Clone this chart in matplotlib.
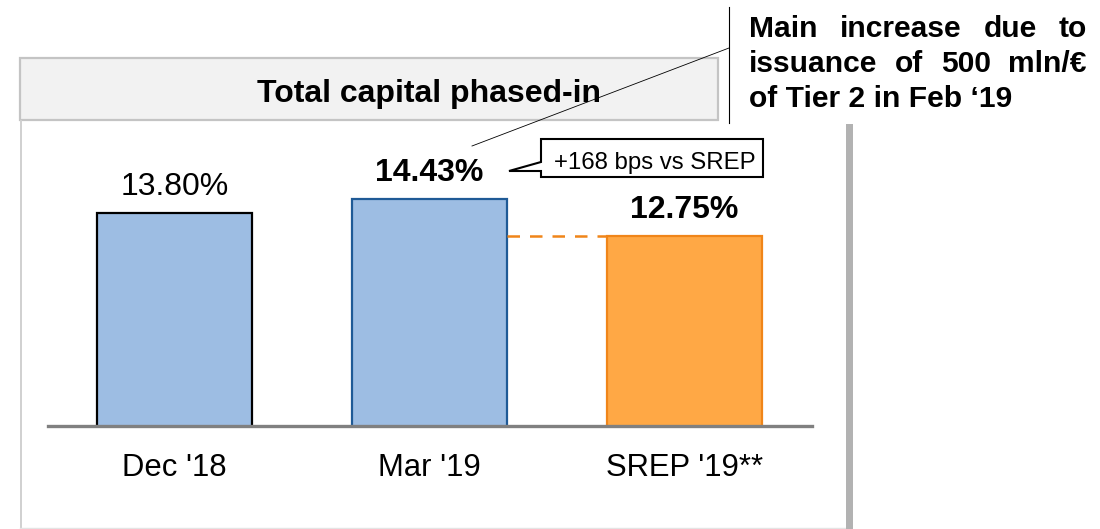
import matplotlib
matplotlib.use("Agg")
import matplotlib.pyplot as plt
from matplotlib.patches import Rectangle, Polygon
from matplotlib.lines import Line2D

plt.rcParams['font.family'] = ['Liberation Sans', 'DejaVu Sans']

# ---- data ----
categories = ["Dec '18", "Mar '19", "SREP '19**"]
values = [13.80, 14.43, 12.75]
value_labels = ["13.80%", "14.43%", "12.75%"]
label_bold = [False, True, True]
title = "Total capital phased-in"
callout_text = "+168 bps vs SREP"
note_lines = ["Main increase due to", "issuance of 500 mln/€", "of Tier 2 in Feb \u201819"]

# ---- style ----
W, H = 1100, 529
fig = plt.figure(figsize=(W / 100, H / 100), dpi=100)
fig.patch.set_facecolor('white')


def fx(x):
    return x / W


def fy(y):
    return 1 - y / H


# header / panel frame
fig.add_artist(Rectangle((fx(20), fy(120)), fx(718) - fx(20), fy(58) - fy(120),
                         transform=fig.transFigure, facecolor='#F2F2F2',
                         edgecolor='#C4C4C4', lw=1.6, zorder=1))
fig.add_artist(Line2D([fx(21), fx(21)], [fy(121), fy(528)], transform=fig.transFigure,
                      color='#D0D0D0', lw=1.4, zorder=1))
fig.add_artist(Line2D([fx(20), fx(846)], [fy(528), fy(528)], transform=fig.transFigure,
                      color='#E4E4E4', lw=1.0, zorder=1))
fig.add_artist(Rectangle((fx(846), fy(529)), fx(853) - fx(846), fy(124) - fy(529),
                         transform=fig.transFigure, facecolor='#B2B2B2',
                         edgecolor='none', zorder=1))

fig.text(fx(257), fy(102), title, ha='left', va='baseline', fontsize=23,
         fontweight='bold', color='black', zorder=3)

# ---- bar axes ----
ax_l, ax_r, ax_t, ax_b = 48, 812, 116, 426
ax = fig.add_axes([fx(ax_l), fy(ax_b), fx(ax_r) - fx(ax_l), fy(ax_t) - fy(ax_b)])
ax.set_facecolor('none')
ax.set_xlim(-0.496, 2.502)
ax.set_ylim(4.08, 18.23)
for s in ax.spines.values():
    s.set_visible(False)
ax.set_xticks([])
ax.set_yticks([])

x = list(range(len(categories)))
bw = 0.608
faces = ['#9DBDE3', '#9DBDE3', '#FFA845']
edges = ['#000000', '#1F5A96', '#F08519']
bars = ax.bar(x, values, width=bw, color=faces, edgecolor=edges, linewidth=1.6, zorder=2)

ax.axhline(4.08, color='#808080', lw=2.4, zorder=3, clip_on=False)

# dashed connector Mar -> SREP level
ax.plot([x[1] + bw / 2, x[2] - bw / 2], [values[2], values[2]], color='#F08519',
        lw=1.8, dashes=(5, 4), zorder=2)

for xi, v, lab, b in zip(x, values, value_labels, label_bold):
    ax.annotate(lab, xy=(xi, v), xytext=(0, 13), textcoords='offset points',
                ha='center', va='baseline', fontsize=23,
                fontweight='bold' if b else 'normal', color='black')

for xi, c in zip(x, categories):
    ax.text(xi, fy(476), c, transform=ax.get_xaxis_transform() if False else
            matplotlib.transforms.blended_transform_factory(ax.transData, fig.transFigure),
            ha='center', va='baseline', fontsize=22.3, color='black')

# ---- callout box ----
poly = [(541, 139), (763, 139), (763, 177), (541, 177), (541, 171), (509, 171), (541, 162)]
fig.add_artist(Polygon([(fx(a), fy(b)) for a, b in poly], closed=True,
                       transform=fig.transFigure, facecolor='white',
                       edgecolor='black', lw=1.5, zorder=4))
fig.text(fx(554), fy(169), callout_text, ha='left', va='baseline', fontsize=17.3,
         color='black', zorder=5)

# ---- note with leader lines ----
fig.add_artist(Line2D([fx(729), fx(729)], [fy(7), fy(123)], transform=fig.transFigure,
                      color='black', lw=0.8, zorder=4))
fig.add_artist(Line2D([fx(729), fx(472)], [fy(48), fy(146)], transform=fig.transFigure,
                      color='black', lw=0.6, zorder=4))

renderer = fig.canvas.get_renderer()
left_px, right_px = 749, 1087
baselines = [37, 72, 107]
for i, (line, by) in enumerate(zip(note_lines, baselines)):
    if i < 2:
        words = line.split(' ')
        texts = [fig.text(0, fy(by), w_, ha='left', va='baseline', fontsize=21.6,
                          fontweight='bold', color='black') for w_ in words]
        widths = [t.get_window_extent(renderer).width for t in texts]
        gap = (right_px - left_px - sum(widths)) / (len(words) - 1)
        cur = left_px
        for t, wd in zip(texts, widths):
            t.set_x(fx(cur))
            cur += wd + gap
    else:
        fig.text(fx(left_px), fy(by), line, ha='left', va='baseline', fontsize=21.6,
                 fontweight='bold', color='black')

fig.savefig('out.png', dpi=100, facecolor='white')
